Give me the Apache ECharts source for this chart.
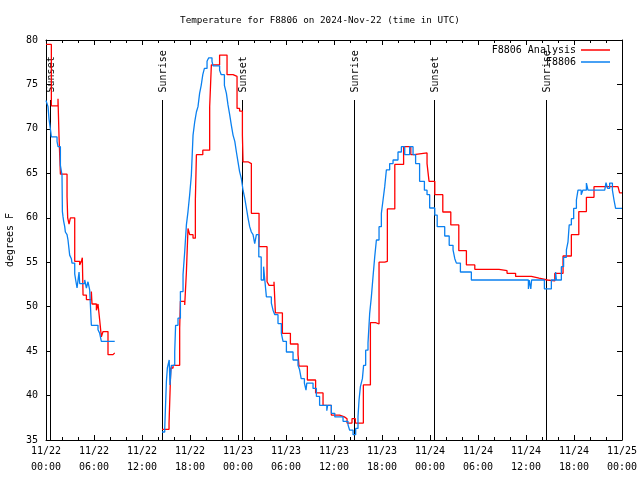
<!DOCTYPE html>
<html>
<head>
<meta charset="utf-8">
<script src="https://cdn.jsdelivr.net/npm/echarts@6/dist/echarts.min.js"></script>
<style>html,body{margin:0;padding:0;background:#fff;}#chart{width:640px;height:480px;}</style>
</head>
<body>
<div id="chart"></div>
<script>
// ---- data (hours since 2024-11-22 00:00 UTC) ----
const xTickLabels = ['11/22\n00:00','11/22\n06:00','11/22\n12:00','11/22\n18:00','11/23\n00:00','11/23\n06:00','11/23\n12:00','11/23\n18:00','11/24\n00:00','11/24\n06:00','11/24\n12:00','11/24\n18:00','11/25\n00:00'];

const sunHours  = [0.55, 14.45, 24.55, 38.45, 48.5, 62.45];
const sunLabels = ['Sunset','Sunrise','Sunset','Sunrise','Sunset','Sunrise'];

const redHours = [0,0.67,1.5,1.63,1.8,2.63,2.71,2.88,3.05,3.59,4.21,4.42,4.54,4.63,5.05,5.67,5.75,6.3,6.5,6.71,6.92,7.13,7.75,8.38,8.59,8.6,
  14.5,15.38,15.6,15.88,16.71,16.8,17.34,17.55,17.75,17.96,18.38,18.67,18.8,19.6,20.46,20.67,21.7,22.63,23.38,23.88,24.2,24.55,24.63,25.25,25.67,26.63,27.63,27.88,28.5,28.67,29.55,30.55,31.5,31.63,32.67,33.7,34.63,35.67,36.7,37.3,37.63,38.25,38.67,39.67,40.55,41.2,41.63,42.34,42.67,43.6,44.7,45.6,46.0,47.63,47.88,48.6,49.6,50.6,51.6,52.55,53.6,56.63,57.63,58.7,60.67,61.63,62.67,63.6,64.63,65.67,66.6,67.55,68.5,71.5,71.7,72];
const redTemps = [79.5,72.6,73.4,69.1,64.9,62.4,60.0,59.3,60.0,55.1,54.7,55.1,55.5,51.3,50.8,51.7,50.3,49.6,50.3,48.5,46.6,47.2,44.6,44.8,44.8,null,
  36.2,36.9,43.1,43.4,47.6,50.6,50.2,53.9,58.8,58.1,57.7,62.0,67.1,67.6,72.5,77.2,78.3,76.1,75.9,72.3,72.0,69.3,66.3,66.1,60.5,56.75,52.8,52.4,52.8,49.3,47.0,45.8,44.6,43.3,41.75,40.3,38.9,37.8,37.6,37.4,36.9,37.4,36.9,41.2,48.2,48.05,55.0,55.1,61.0,66.0,68.0,67.1,67.3,66.1,64.1,62.6,60.65,59.2,56.3,54.7,54.2,54.05,53.75,53.4,53.2,53.0,52.9,53.75,55.7,58.1,60.7,62.3,63.5,63.7,62.8,62.8];

const blueHours = [0,0.25,0.38,0.59,0.67,1.38,1.5,1.8,2.0,2.05,2.13,2.21,2.34,2.42,2.63,2.75,2.96,3.17,3.25,3.59,3.71,3.88,4.13,4.21,4.84,5.05,5.25,5.46,5.67,6.5,6.71,6.92,8.59,8.6,
  14.5,14.84,15.05,15.17,15.4,15.5,15.67,16.09,16.2,16.5,16.8,17.13,17.34,17.55,17.75,17.96,18.17,18.38,18.59,18.8,19.0,19.2,19.4,19.6,19.8,20.13,20.34,20.75,20.88,21.7,21.9,22.3,22.55,22.75,22.96,23.17,23.38,23.6,23.8,24.0,24.2,24.42,24.63,24.84,25.05,25.25,25.46,25.67,25.88,26.09,26.3,26.6,26.9,27.2,27.35,27.55,28.17,28.38,28.6,29.0,29.42,29.63,30.05,30.88,31.5,31.7,31.9,32.3,32.5,32.6,33.38,33.8,34.2,35.1,35.2,35.67,36.1,37.13,37.75,37.96,38.38,38.71,39.0,39.13,39.3,39.55,39.7,39.96,40.25,40.46,40.67,40.88,41.09,41.3,41.63,41.92,42.13,42.34,42.55,42.96,43.38,44.0,44.42,44.84,45.46,45.88,46.2,46.7,47.3,47.63,47.96,48.6,48.9,49.84,50.4,50.88,51.1,51.3,51.8,53.17,60.3,60.4,60.6,60.7,62.3,63.17,63.7,63.8,64.42,64.7,65.05,65.25,65.4,65.67,65.96,66.3,66.5,66.9,67.1,67.55,67.75,69.84,70.0,70.2,70.46,70.8,71.0,71.2,72];
const blueTemps = [73.2,72.5,71.1,69.7,69.1,68.6,68.0,65.9,64.8,60.7,60.1,59.6,59.0,58.4,58.1,57.5,55.8,55.4,54.9,53.7,53.0,52.1,53.9,52.6,53.0,52.1,52.8,51.9,47.9,47.4,47.0,46.1,46.1,null,
  35.9,36.3,41.6,43.1,44.0,41.2,43.4,44.9,47.9,48.7,51.7,53.6,56.2,59.2,60.7,62.6,64.8,69.3,70.8,71.9,72.5,74.0,74.9,76.1,76.8,77.6,78.0,77.6,77.1,76.6,76.1,74.9,74.0,72.7,71.6,70.4,69.3,68.6,67.4,66.3,65.2,64.4,63.1,62.2,61.1,60.0,59.0,58.4,58.1,57.1,58.1,55.6,53.0,54.5,53.0,51.1,50.4,49.6,49.1,48.1,47.0,46.1,44.9,44.0,43.4,42.9,41.9,41.4,40.6,41.4,40.8,39.9,38.9,38.3,38.9,38.0,37.6,37.1,36.7,36.1,35.6,36.3,37.6,39.5,41.0,41.9,43.4,45.1,45.9,49.25,51.1,53.4,55.6,57.5,59.0,60.5,62.0,63.5,65.4,66.1,66.5,67.4,68.0,67.1,68.0,67.1,66.1,64.1,63.1,62.6,61.1,60.3,59.0,57.95,56.9,56.4,55.4,54.9,53.9,53.0,52.0,53.0,52.0,53.0,52.0,53.0,53.9,53.0,54.5,55.55,56.4,57.3,59.2,59.9,61.06,62.0,63.1,62.6,63.1,63.9,63.1,63.3,63.95,63.3,63.9,63.1,62.0,61.06,61.06];

// ---- styles ----
const FONT = '"DejaVu Sans Mono", "Liberation Mono", monospace';
const Y_MIN = 35, Y_MAX = 80;
const SUN_LINE_TOP = 73.25;
const SUN_LABEL_BASE = 74.1;

function pairs(hours, temps) {
  return hours.map((h, i) => [h, temps[i] === null ? '-' : temps[i]]);
}

const chart = echarts.init(document.getElementById('chart'), null, {renderer: 'canvas'});

const tickStyle = {color: '#000', width: 1};
const option = {
  animation: false,
  backgroundColor: '#fff',
  title: {
    text: 'Temperature for F8806 on 2024-Nov-22 (time in UTC)',
    left: 'center', top: 11,
    textStyle: {fontFamily: FONT, fontSize: 9.3, fontWeight: 'normal', color: '#000'}
  },
  legend: [
    {data: ['F8806 Analysis'], right: 30, top: 45, padding: 0, align: 'right', icon: 'rect', itemWidth: 29, itemHeight: 1.5,
     textStyle: {fontFamily: FONT, fontSize: 10, color: '#000'}, selectedMode: false},
    {data: ['F8806'], right: 30, top: 57, padding: 0, align: 'right', icon: 'rect', itemWidth: 29, itemHeight: 1.5,
     textStyle: {fontFamily: FONT, fontSize: 10, color: '#000'}, selectedMode: false}
  ],
  grid: {left: 46, right: 18, top: 40, bottom: 40, containLabel: false, outerBoundsMode: 'none'},
  xAxis: [
    {type: 'value', min: 0, max: 72, interval: 6, position: 'bottom',
     axisLine: {show: true, onZero: false, lineStyle: tickStyle},
     axisTick: {show: true, inside: true, length: 5, lineStyle: tickStyle},
     minorTick: {show: true, splitNumber: 3, length: 3, lineStyle: tickStyle},
     splitLine: {show: false},
     axisLabel: {formatter: v => xTickLabels[Math.round(v / 6)], fontFamily: FONT, fontSize: 10, color: '#000', lineHeight: 16, margin: 3, showMinLabel: true, showMaxLabel: true, hideOverlap: false}},
    {type: 'value', min: 0, max: 72, interval: 6, position: 'top',
     axisLine: {show: true, onZero: false, lineStyle: tickStyle},
     axisTick: {show: true, inside: true, length: 5, lineStyle: tickStyle},
     minorTick: {show: true, splitNumber: 3, length: 3, lineStyle: tickStyle},
     splitLine: {show: false}, axisLabel: {show: false}}
  ],
  yAxis: [
    {type: 'value', min: Y_MIN, max: Y_MAX, interval: 5, position: 'left',
     name: 'degrees F', nameLocation: 'middle', nameRotate: 90, nameGap: 30,
     nameTextStyle: {fontFamily: FONT, fontSize: 10, color: '#000'},
     axisLine: {show: true, onZero: false, lineStyle: tickStyle},
     axisTick: {show: true, inside: true, length: 5, lineStyle: tickStyle},
     splitLine: {show: false},
     axisLabel: {fontFamily: FONT, fontSize: 10, color: '#000', margin: 8}},
    {type: 'value', min: Y_MIN, max: Y_MAX, interval: 5, position: 'right',
     axisLine: {show: true, onZero: false, lineStyle: tickStyle},
     axisTick: {show: true, inside: true, length: 5, lineStyle: tickStyle},
     splitLine: {show: false}, axisLabel: {show: false}}
  ],
  series: [
    {
      type: 'custom', name: 'sun', xAxisIndex: 0, yAxisIndex: 0, silent: true, z: 1,
      data: sunHours.map(h => [h, Y_MIN]),
      renderItem: function (params, api) {
        const h = api.value(0);
        const pb = api.coord([h, Y_MIN]);
        const pt = api.coord([h, SUN_LINE_TOP]);
        const pl = api.coord([h, SUN_LABEL_BASE]);
        const x = Math.round(pb[0]) + 0.5;
        return {type: 'group', children: [
          {type: 'line', shape: {x1: x, y1: pb[1], x2: x, y2: pt[1]}, style: {stroke: '#000', lineWidth: 1}},
          {type: 'text', x: x + 1, y: pl[1], rotation: Math.PI / 2,
           style: {text: sunLabels[params.dataIndex], align: 'left', verticalAlign: 'middle', font: '10px ' + FONT, fill: '#000'}}
        ]};
      }
    },
    {
      type: 'line', name: 'F8806 Analysis', step: 'end', showSymbol: false, connectNulls: false, z: 3,
      data: pairs(redHours, redTemps),
      color: '#ff0000', lineStyle: {color: '#ff0000', width: 1.3}
    },
    {
      type: 'line', name: 'F8806', step: 'end', showSymbol: false, connectNulls: false, z: 4,
      data: pairs(blueHours, blueTemps),
      color: '#0a80f0', lineStyle: {color: '#0a80f0', width: 1.3}
    }
  ]
};
chart.setOption(option);
</script>
</body>
</html>
